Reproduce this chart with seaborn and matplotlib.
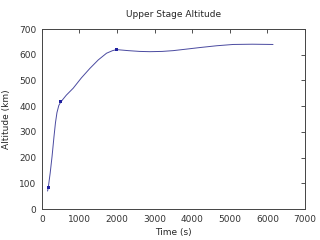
import matplotlib
matplotlib.use("Agg")
import matplotlib.pyplot as plt
import seaborn as sns
import pandas as pd

# curve
time_s = [150, 168, 220, 270, 320, 360, 400, 450, 505, 650, 833, 1050, 1277, 1500, 1720, 1880, 1986,
          2300, 2600, 2872, 3200, 3492, 3850, 4202, 4650, 5088, 5600, 6150]
alt_km = [70, 83, 140, 205, 280, 335, 375, 403, 417, 443, 470, 510, 547, 580, 606, 616, 620,
          616, 613, 612, 613, 616, 622, 628, 635, 640, 641, 640]
# marked points
mark_t = [168, 505, 1986]
mark_a = [83, 417, 620]

x_ticks = [0, 1000, 2000, 3000, 4000, 5000, 6000, 7000]
y_ticks = [0, 100, 200, 300, 400, 500, 600, 700]

sns.set_style("white")
plt.rcParams['font.family'] = ['DejaVu Sans']

fig = plt.figure(figsize=(3.2, 2.4), dpi=100)
ax = fig.add_axes([0.131, 0.129, 0.822, 0.75])

df = pd.DataFrame({"t": time_s, "a": alt_km})
dm = pd.DataFrame({"t": mark_t, "a": mark_a})
sns.lineplot(data=df, x="t", y="a", ax=ax, color="#4a4aa0", linewidth=0.7, sort=False, estimator=None)
sns.scatterplot(data=dm, x="t", y="a", ax=ax, color="#2020a0", marker="s", s=5, edgecolor="none", zorder=3)

ax.set_xlim(0, 7000)
ax.set_ylim(0, 700)
ax.set_xticks(x_ticks)
ax.set_yticks(y_ticks)
ax.tick_params(direction="in", length=3, width=0.6, labelsize=6.5, top=True, right=True, pad=4, colors="#333333")
for s in ax.spines.values():
    s.set_linewidth(0.7)
    s.set_color("#444444")
ax.set_xlabel("Time (s)", fontsize=6.5, labelpad=3)
ax.set_ylabel("Altitude (km)", fontsize=6.5, labelpad=6)
ax.set_title("Upper Stage Altitude", fontsize=6.5, pad=9)

fig.savefig("out.png", dpi=100)
